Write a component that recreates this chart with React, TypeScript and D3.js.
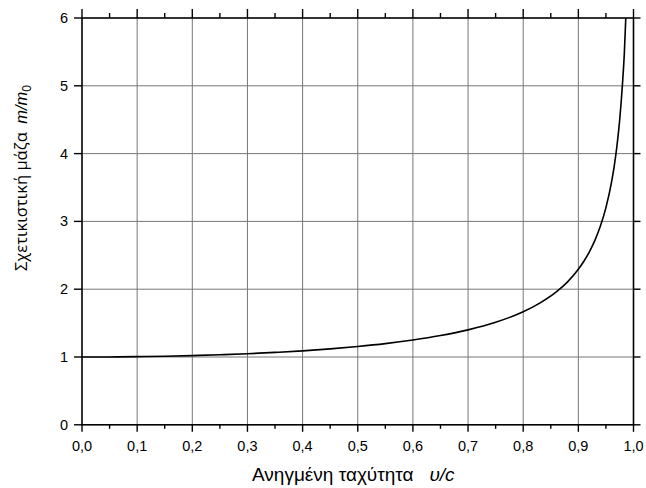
import React from "react";
import * as d3 from "d3";

const speeds = [0, 0.05, 0.1, 0.15, 0.2, 0.25, 0.3, 0.35, 0.4, 0.45, 0.5, 0.55, 0.6, 0.65, 0.7, 0.75, 0.8, 0.83, 0.86, 0.88, 0.9, 0.91, 0.92, 0.93, 0.94, 0.95, 0.96, 0.965, 0.97, 0.975, 0.98, 0.9835, 0.986];
const masses = [1, 1.001, 1.005, 1.011, 1.021, 1.033, 1.048, 1.068, 1.091, 1.12, 1.155, 1.197, 1.25, 1.316, 1.4, 1.512, 1.667, 1.795, 1.96, 2.105, 2.294, 2.412, 2.552, 2.721, 2.931, 3.203, 3.571, 3.812, 4.113, 4.502, 5.025, 5.5, 6.0];
const xTicks = [0, 0.1, 0.2, 0.3, 0.4, 0.5, 0.6, 0.7, 0.8, 0.9, 1.0];
const xMinor = [0.05, 0.15, 0.25, 0.35, 0.45, 0.55, 0.65, 0.75, 0.85, 0.95];
const yTicks = [0, 1, 2, 3, 4, 5, 6];

const W = 646, H = 488;
const L = 82, R = 633.5, T = 18, B = 424.8;

export default function App() {
  const x = d3.scaleLinear().domain([0, 1]).range([L, R]);
  const y = d3.scaleLinear().domain([0, 6]).range([B, T]);
  const pts = speeds.map((s, i) => [s, masses[i]] as [number, number]);
  const line = d3.line<[number, number]>().x(d => x(d[0])).y(d => y(d[1])).curve(d3.curveMonotoneX);
  const font = "Arial, 'Liberation Sans', sans-serif";
  return (
    <svg width={W} height={H} style={{ position: "absolute", left: 0, top: 0 }}>
      <rect x={0} y={0} width={W} height={H} fill="#fff" />
      {xTicks.slice(1, -1).map(t => (
        <line key={"gx" + t} x1={x(t)} x2={x(t)} y1={T} y2={B} stroke="#777" strokeWidth={1} />
      ))}
      {yTicks.slice(1, -1).map(t => (
        <line key={"gy" + t} x1={L} x2={R} y1={y(t)} y2={y(t)} stroke="#777" strokeWidth={1} />
      ))}
      <path d={line(pts) || ""} fill="none" stroke="#000" strokeWidth={1.6} />
      <rect x={L} y={T} width={R - L} height={B - T} fill="none" stroke="#000" strokeWidth={1.6} />
      {xTicks.map(t => (
        <g key={"tx" + t}>
          <line x1={x(t)} x2={x(t)} y1={B} y2={B + 7} stroke="#000" strokeWidth={1.4} />
          <line x1={x(t)} x2={x(t)} y1={T} y2={T - 9} stroke="#000" strokeWidth={1.4} />
          <text x={x(t)} y={451} textAnchor="middle" fontFamily={font} fontSize={14.5}>
            {t.toFixed(1).replace(".", ",")}
          </text>
        </g>
      ))}
      {xMinor.map(t => (
        <g key={"mx" + t}>
          <line x1={x(t)} x2={x(t)} y1={B} y2={B + 4} stroke="#000" strokeWidth={1.4} />
          <line x1={x(t)} x2={x(t)} y1={T} y2={T - 5} stroke="#000" strokeWidth={1.4} />
        </g>
      ))}
      {yTicks.map(t => (
        <g key={"ty" + t}>
          <line x1={L} x2={L - 8} y1={y(t)} y2={y(t)} stroke="#000" strokeWidth={1.4} />
          <line x1={R} x2={R + 7} y1={y(t)} y2={y(t)} stroke="#000" strokeWidth={1.4} />
          <text x={68} y={y(t) + 5} textAnchor="end" fontFamily={font} fontSize={14.5}>
            {t}
          </text>
        </g>
      ))}
      <text x={252} y={481} textAnchor="start" fontFamily={font} fontSize={19}>
        Ανηγμένη ταχύτητα{"\u00a0\u00a0\u00a0"}<tspan fontStyle="italic">υ/c</tspan>
      </text>
      <text transform="translate(27,178) rotate(-90)" textAnchor="middle" fontFamily="'Open Sans', 'DejaVu Sans', sans-serif" fontSize={16.5}>
        Σχετικιστική μάζα{"\u00a0\u00a0"}<tspan fontStyle="italic" fontFamily={font}>m/m</tspan>
        <tspan fontFamily={font} fontSize={12} dy={4}>0</tspan>
      </text>
    </svg>
  );
}
